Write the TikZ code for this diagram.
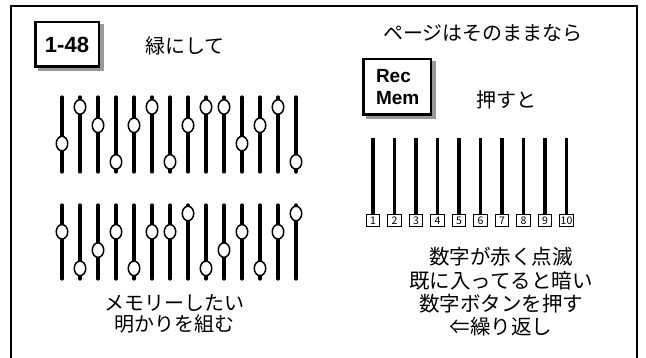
\documentclass[tikz,border=0pt]{standalone}
\usepackage{fontspec}
\setmainfont{Noto Sans CJK JP}
\newfontfamily\latb{Liberation Sans}[Scale=1.0]
\usetikzlibrary{shapes.geometric}
\begin{document}
\begin{tikzpicture}[x=1pt,y=-1pt,
  frameline/.style={line width=1.6pt},
  keybox/.style={draw, line width=2.5pt, fill=white, inner sep=0pt},
  keyshadow/.style={fill=black!40},
  jtext/.style={inner sep=0pt, align=center, font=\fontsize{20}{23}\selectfont},
  slider/.style={line width=3.2pt, line cap=round},
  knob/.style={ellipse, draw, line width=1.5pt, fill=white, inner sep=0pt, minimum width=11.5pt, minimum height=14.5pt},
  numbox/.style={draw, line width=1.2pt, inner sep=0pt, minimum width=13.5pt, minimum height=12.5pt, font=\fontsize{10.5}{11}\selectfont}
]
\useasboundingbox (0,0) rectangle (646,358);
% outer frame (open at the bottom, cut by the picture edge)
\coordinate (fbl) at (11,358);
\coordinate (ftl) at (11,6);
\coordinate (ftr) at (637,6);
\coordinate (fbr) at (637,358);
\draw[frameline] (fbl) -- (ftl) -- (ftr) -- (fbr);

% key 1-48
\fill[keyshadow] (37.5,24.5) rectangle (103.5,71.5);
\node[keybox, minimum width=63.5pt, minimum height=44.5pt] (k148) at (67,44.5)
  {\latb\bfseries\fontsize{22}{22}\selectfont 1-48};
\node[jtext] (t1) at (185,46) {緑にして};

% key Rec Mem
\fill[keyshadow] (365.5,61.5) rectangle (435.5,119.5);
\node[keybox, minimum width=67.5pt, minimum height=55.5pt] (krec) at (397,87)
  {\parbox{42pt}{\latb\bfseries\fontsize{19}{22}\selectfont Rec\\Mem}};
\node[jtext] (t2) at (483,33) {ページはそのままなら};
\node[jtext] (t3) at (506,100) {押すと};

% upper sliders
\foreach \lv [count=\i from 0] in {3,1,2,4,2,1,4,2,1,1,3,2,1,4} {
  \pgfmathsetmacro\xx{62+18*\i}
  \pgfmathsetmacro\yy{107+18.3*(\lv-1)}
  \coordinate (ut\i) at (\xx,97);
  \coordinate (ub\i) at (\xx,172);
  \draw[slider] (ut\i) -- (ub\i);
  \node[knob] (uk\i) at (\xx,\yy) {};
}
% lower sliders
\foreach \lv [count=\i from 0] in {2,4,3,2,4,2,2,1,4,3,2,4,2,1} {
  \pgfmathsetmacro\xx{62+18*\i}
  \pgfmathsetmacro\yy{213.5+18.3*(\lv-1)}
  \coordinate (lt\i) at (\xx,205);
  \coordinate (lb\i) at (\xx,279);
  \draw[slider] (lt\i) -- (lb\i);
  \node[knob] (lk\i) at (\xx,\yy) {};
}
\node[jtext, font=\fontsize{20}{21}\selectfont] (t4) at (174,314) {メモリーしたい\\明かりを組む};

% right channel lines with number buttons
\foreach \n [count=\i from 0] in {1,...,10} {
  \pgfmathsetmacro\xx{373+21.5*\i}
  \node[numbox] (nb\i) at (\xx,220.5) {\n};
  \coordinate (rt\i) at (\xx,138);
  \draw[slider, line cap=butt] (rt\i) -- (nb\i.north);
}
\node[jtext, font=\fontsize{20.5}{23.3}\selectfont] (t5) at (501,292)
  {数字が赤く点滅\\既に入ってると暗い\\数字ボタンを押す\\⇐繰り返し};
\end{tikzpicture}
\end{document}
